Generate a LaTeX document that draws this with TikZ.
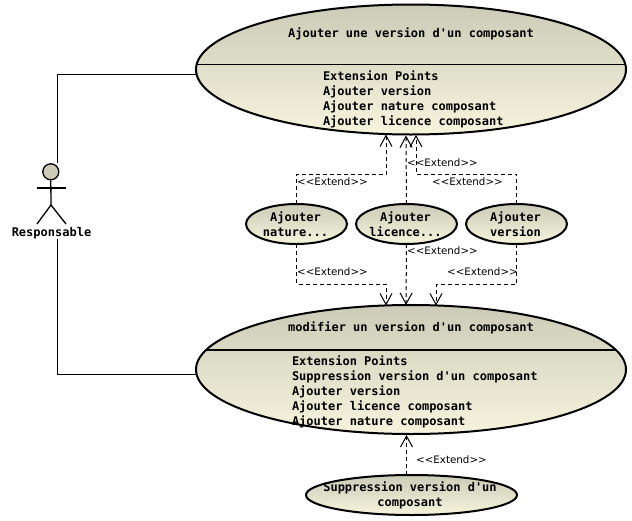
\documentclass[tikz,border=0pt]{standalone}
\usepackage{fontspec}
\setsansfont{DejaVu Sans}
\setmonofont{DejaVu Sans Mono}
\usetikzlibrary{shapes.geometric,arrows.meta}
\definecolor{gtop}{RGB}{203,203,183}
\definecolor{gbot}{RGB}{246,244,221}
\tikzset{
  x=1pt,y=-1pt,
  usecase/.style={ellipse,draw=black,line width=2pt,top color=gtop,bottom color=gbot,inner sep=0pt,outer sep=0pt},
  bigcase/.style={usecase,minimum width=430pt,minimum height=130pt},
  smallcase/.style={usecase,minimum width=101pt,minimum height=40pt},
  widecase/.style={usecase,minimum width=211pt,minimum height=40pt},
  umltext/.style={font=\ttfamily\bfseries\fontsize{12}{15}\selectfont,text=black,inner sep=0pt,outer sep=0pt},
  umlcenter/.style={umltext,align=center},
  umlleft/.style={umltext,align=left,anchor=north west},
  extlabel/.style={font=\sffamily\fontsize{10.3}{12}\selectfont,text=black,inner sep=0pt,anchor=west},
  extends/.style={draw=black,line width=1pt,dashed,dash pattern=on 4pt off 3pt,-{Straight Barb[length=11pt,width=12pt,line width=1pt]}},
  assoc/.style={draw=black,line width=1pt},
  stick/.style={draw=black,line width=1.3pt},
}
\begin{document}
\begin{tikzpicture}
\useasboundingbox (0,0) rectangle (632,520);
% use cases
\node[bigcase] (top) at (411,69.5) {};
\node[bigcase,minimum height=129pt] (bot) at (411,369.5) {};
\node[smallcase] (nat) at (296.5,224) {};
\node[smallcase] (lic) at (406.5,224) {};
\node[smallcase] (ver) at (516.5,224) {};
\node[widecase] (sup) at (411.5,495) {};
% free ends
\coordinate (topL) at (196.6,64.5); \coordinate (topR) at (625.4,64.5);
\coordinate (botL) at (206,350); \coordinate (botR) at (616,350);
\coordinate (tipA) at (386,134.5); \coordinate (tipB) at (406,135.5); \coordinate (tipC) at (416,135);
\coordinate (tipD) at (386,305.5); \coordinate (tipE) at (406,305); \coordinate (tipF) at (436,305.5);
\coordinate (tipG) at (406.5,435);
\coordinate (actT) at (57,163); \coordinate (actB) at (57,239);
\coordinate (asT) at (196,74); \coordinate (asB) at (196,374);
% dividers
\draw[line width=1.3pt] (topL) -- (topR);
\draw[line width=1.3pt] (botL) -- (botR);
% connectors
\draw[extends] (nat.north) -- (296.5,174) -- (386,174) -- (tipA);
\draw[extends] (lic.north) -- (tipB);
\draw[extends] (ver.north) -- (516.5,174) -- (416,174) -- (tipC);
\draw[extends] (nat.south) -- (296.5,284) -- (386,284) -- (tipD);
\draw[extends] (lic.south) -- (tipE);
\draw[extends] (ver.south) -- (516.5,284) -- (436,284) -- (tipF);
\draw[extends] (sup.north -| tipG) -- (tipG);
\draw[assoc] (asT) -- (57,74) -- (actT);
\draw[assoc] (actB) -- (57,374) -- (asB);
% actor
\node[circle,draw=black,line width=1.3pt,fill=gtop,minimum size=16pt,inner sep=0pt] (head) at (50.8,171.8) {};
\coordinate (hip) at (51,205);
\coordinate (armL) at (37,188); \coordinate (armR) at (66,188);
\coordinate (legL) at (37,224); \coordinate (legR) at (66,224);
\draw[stick] (head.south) -- (hip);
\draw[stick] (armL) -- (armR);
\draw[stick] (legL) -- (hip) -- (legR);
\node[umlcenter] (actname) at (51.5,233) {Responsable};
% texts
\node[umlcenter] (topname) at (411,34) {Ajouter une version d'un composant};
\node[umlleft] (toppts) at (323,70.5) {Extension Points\\Ajouter version\\Ajouter nature composant\\Ajouter licence composant};
\node[umlcenter] (botname) at (411,328) {modifier un version d'un composant};
\node[umlleft] (botpts) at (292,355.5) {Extension Points\\Suppression version d'un composant\\Ajouter version\\Ajouter licence composant\\Ajouter nature composant};
\node[umlcenter] (natname) at (295.5,224.5) {Ajouter\\nature...};
\node[umlcenter] (licname) at (405.5,224.5) {Ajouter\\licence...};
\node[umlcenter] (vername) at (515.5,224.5) {Ajouter\\version};
\node[umlcenter] (supname) at (410,495.5) {Suppression version d'un\\composant};
% extend labels
\node[extlabel] (e1) at (297,181.5) {<{}<Extend>{}>};
\node[extlabel] (e2) at (407,162.5) {<{}<Extend>{}>};
\node[extlabel] (e3) at (432,181.5) {<{}<Extend>{}>};
\node[extlabel] (e4) at (407,250.5) {<{}<Extend>{}>};
\node[extlabel] (e5) at (297,271.5) {<{}<Extend>{}>};
\node[extlabel] (e6) at (447,271.5) {<{}<Extend>{}>};
\node[extlabel] (e7) at (416,459.5) {<{}<Extend>{}>};
\end{tikzpicture}
\end{document}
